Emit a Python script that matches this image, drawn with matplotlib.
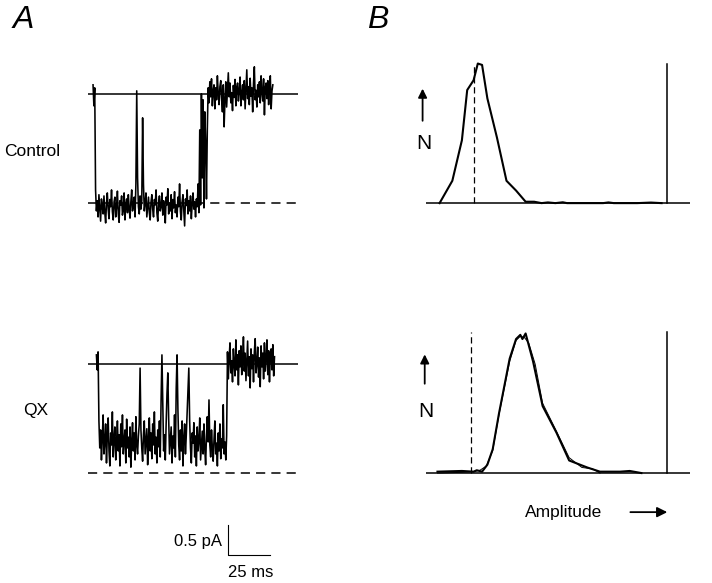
import numpy as np
import matplotlib
matplotlib.use('Agg')
import matplotlib.pyplot as plt

plt.rcParams['font.family'] = ['Liberation Sans', 'DejaVu Sans']

# ---- A: single-channel traces (pA, sampled every 0.5 ms) ----
dt = 0.5
open_level = -1.82

# Control trace (starts at 3 ms), values in 1/100 pA
ctrl_start = 3.0
ctrl_closed1 = [15, -20, 10]
ctrl_open = [-160, -195, -178, -205, -168, -190, -212, -175, -186, -200,
             -170, -198, -215, -182, -165, -192, -208, -176, -188, -160,
             -196, -210, -180, -172, -205, -188, -162, -199, -214, -178,
             -185, -170, -202, -193, -165, -210, -184, -175, -198, -168,
             -190, -207, -180, -160, -195, -185, -172, -205, -150,
             5, -140,
             -188, -200, -170, -192, -178,
             -40, -150,
             -195, -182, -165, -205, -188, -172, -198, -210, -180, -168,
             -192, -205, -176, -185, -160, -198, -212, -183, -170, -195,
             -188, -165, -202, -178, -190, -215, -172, -185, -158, -200,
             -182, -195, -168, -208, -176, -190, -163, -198, -185, -205,
             -172, -188, -150, -196, -210, -180, -168, -193, -220, -175,
             -186, -160, -200, -178, -195, -170, -208, -183, -165, -192,
             -180, -205, -175, -188, -150, -198,
             -60, -185, 0, -140, -10, -190, -30, -80, -175, -60]
ctrl_closed2 = [10, -15, 20, -5, 25, -20, 5, 15, -25, 10,
                -10, 30, 0, -18, 12, 22, -8, -30, 15, -55,
                -12, 20, -22, 8, 35, -5, 18, -15, 2, -28,
                14, -6, 24, -20, 10, 18, -12, 5, 28, -20,
                0, 15, -10, 22, -25, 8, 40, -8, 12, -18,
                26, -4, 10, -30, 18, 45, -10, 6, -22, 15,
                -5, 20, -15, 30, 2, -12, 25, -35, 10, 18,
                -8, 22, -18, 12, 30, -25, 5, 15]

# QX trace (starts at 5 ms), values in 1/100 pA
qx_start = 5.0
qx_closed1 = [15, -10, 20]
qx_open = [-95, -140, -110, -160, -125, -85, -150, -130, -100, -165,
           -120, -90, -145, -170, -115, -135, -80, -155, -125, -105,
           -160, -130, -95, -145, -118, -170, -100, -138, -85, -150,
           -128, -110, -165, -92, -140, -122, -155, -105, -172, -130,
           -98, -145, -115, -160, -88, -135, -150, -120, -100,
           -7, -110,
           -140, -162, -118, -95, -150, -130, -108, -168, -125, -90,
           -145, -115, -158, -100, -135, -80, -150, -122, -165, -110,
           -138, -95, -155, -60,
           15, -70,
           -145, -118, -160, -100, -50,
           -15, -90,
           -150, -128, -105, -165, -120, -140, -85, -155, -40,
           15, -75,
           -135, -160, -110, -145, -95, -170, -125, -100, -150, -118, -80, -40,
           -7, -95,
           -140, -165, -115, -132, -98, -155, -120, -170, -105, -145, -128,
           -90, -160, -135, -112, -150, -100, -142, -168, -120, -88, -130,
           -60, -135,
           -155, -110, -140, -162, -125, -95, -150, -132, -170, -115, -145,
           -100, -158, -125, -140,
           -68, -150, -130, -160, -120]
qx_closed2 = [20, -25, 10, 35, -15, 5, -30, 25, 0, -20,
              40, -10, 15, -35, 22, -5, 30, -18, 8, 45,
              -12, 18, -28, 5, 38, -20, 12, -40, 25, -8,
              15, -30, 20, 42, -15, 0, 28, -22, 10, -38,
              30, -5, 18, -25, 35, -12, 8, 40, -18, 22,
              -30, 15, 25, -10, 32, -20, 12]

ctrl_pA = np.array(ctrl_closed1 + ctrl_open + ctrl_closed2) / 100.0
qx_pA = np.array(qx_closed1 + qx_open + qx_closed2) / 100.0
ctrl_t = ctrl_start + dt * np.arange(len(ctrl_pA))
qx_t = qx_start + dt * np.arange(len(qx_pA))

# ---- B: amplitude histograms (pA, normalised N) ----
ctrl_amp = [-2.14, -2.02, -1.93, -1.88, -1.82, -1.78, -1.74, -1.69, -1.60,
            -1.51, -1.42, -1.33, -1.25, -1.18, -1.12, -1.05, -0.98, -0.94,
            -0.60, -0.55, -0.50, -0.28, -0.15, -0.05]
ctrl_n = [0.0, 0.16, 0.45, 0.81, 0.88, 1.0, 0.99, 0.75, 0.47,
          0.16, 0.09, 0.01, 0.01, 0.0, 0.005, 0.0, 0.006, 0.0,
          0.0, 0.005, 0.0, 0.0, 0.004, 0.0]

qx_amp = [-2.16, -1.93, -1.82, -1.79, -1.74, -1.69, -1.64, -1.58, -1.48,
          -1.42, -1.38, -1.36, -1.33, -1.26, -1.17, -1.04, -0.92, -0.75,
          -0.63, -0.44, -0.35, -0.24]
qx_n = [0.01, 0.015, 0.01, 0.02, 0.01, 0.06, 0.17, 0.43, 0.82,
        0.96, 0.99, 0.96, 1.0, 0.80, 0.48, 0.29, 0.09, 0.04,
        0.01, 0.01, 0.015, 0.0]
qx_fit_amp = [-2.16, -1.93, -1.82, -1.76, -1.70, -1.64, -1.58, -1.48,
              -1.42, -1.38, -1.34, -1.30, -1.24, -1.17, -1.04, -0.92,
              -0.80, -0.70, -0.63]
qx_fit_n = [0.0, 0.005, 0.01, 0.02, 0.05, 0.16, 0.42, 0.80,
            0.95, 0.98, 0.97, 0.93, 0.78, 0.50, 0.30, 0.11,
            0.04, 0.03, 0.0]

fig = plt.figure(figsize=(7.12, 5.83), dpi=100)

# A panels
ax_c = fig.add_axes([0.1236, 0.597, 0.295, 0.309])
ax_q = fig.add_axes([0.1236, 0.1338, 0.295, 0.309])
for ax, t, y in [(ax_c, ctrl_t, ctrl_pA), (ax_q, qx_t, qx_pA)]:
    ax.axhline(0, color='black', lw=1.1)
    ax.axhline(open_level, color='black', lw=1.1, ls=(0, (6, 4)))
    ax.plot(t, y, color='black', lw=1.15)
    ax.set_xlim(0, 125)
    ax.set_ylim(-2.35, 0.65)
    ax.axis('off')

# scale bar
ax_q.plot([83.3, 83.3, 108.3], [-2.68, -3.18, -3.18], color='black', lw=0.8,
          clip_on=False)
ax_q.text(80, -2.95, '0.5 pA', ha='right', va='center', fontsize=12)
ax_q.text(83.3, -3.47, '25 ms', ha='left', va='center', fontsize=12)

fig.text(4 / 712, 1 - 152 / 583, 'Control', ha='left', va='center', fontsize=12.5)
fig.text(23 / 712, 1 - 410 / 583, 'QX', ha='left', va='center', fontsize=12.5)

# B panels
ax_hc = fig.add_axes([0.598, 0.631, 0.371, 0.2744])
ax_hq = fig.add_axes([0.598, 0.168, 0.371, 0.2744])
ax_hc.plot(ctrl_amp, ctrl_n, color='black', lw=1.5)
ax_hq.plot(qx_fit_amp, qx_fit_n, color='black', lw=0.7)
ax_hq.plot(qx_amp, qx_n, color='black', lw=1.5)
for ax, dash_x, top in [(ax_hc, -1.82, 1.0), (ax_hq, -1.84, 1.01)]:
    ax.axhline(0, color='black', lw=1.1)
    ax.plot([0, 0], [0, top], color='black', lw=1.1)
    ax.plot([dash_x, dash_x], [0, top], color='black', lw=0.9, ls=(0, (5, 3)))
    ax.set_xlim(-2.27, 0.217)
    ax.set_ylim(-0.086, 1.06)
    ax.axis('off')

ax_hc.annotate('', xy=(-2.30, 0.84), xytext=(-2.30, 0.57),
               arrowprops=dict(arrowstyle='-|>', color='black', lw=1.3,
                               mutation_scale=13), annotation_clip=False)
ax_hc.text(-2.285, 0.43, 'N', ha='center', va='center', fontsize=15)
ax_hq.annotate('', xy=(-2.28, 0.87), xytext=(-2.28, 0.62),
               arrowprops=dict(arrowstyle='-|>', color='black', lw=1.3,
                               mutation_scale=13), annotation_clip=False)
ax_hq.text(-2.27, 0.44, 'N', ha='center', va='center', fontsize=15)

ax_hq.text(-1.34, -0.28, 'Amplitude', ha='left', va='center', fontsize=12.5)
ax_hq.annotate('', xy=(0.03, -0.28), xytext=(-0.37, -0.28),
               arrowprops=dict(arrowstyle='-|>', color='black', lw=1.3,
                               mutation_scale=15), annotation_clip=False)

fig.text(13 / 712, 1 - 28 / 583, 'A', fontsize=23, style='italic', va='baseline')
fig.text(367 / 712, 1 - 28 / 583, 'B', fontsize=23, style='italic', va='baseline')

fig.savefig('out.png', dpi=100)
